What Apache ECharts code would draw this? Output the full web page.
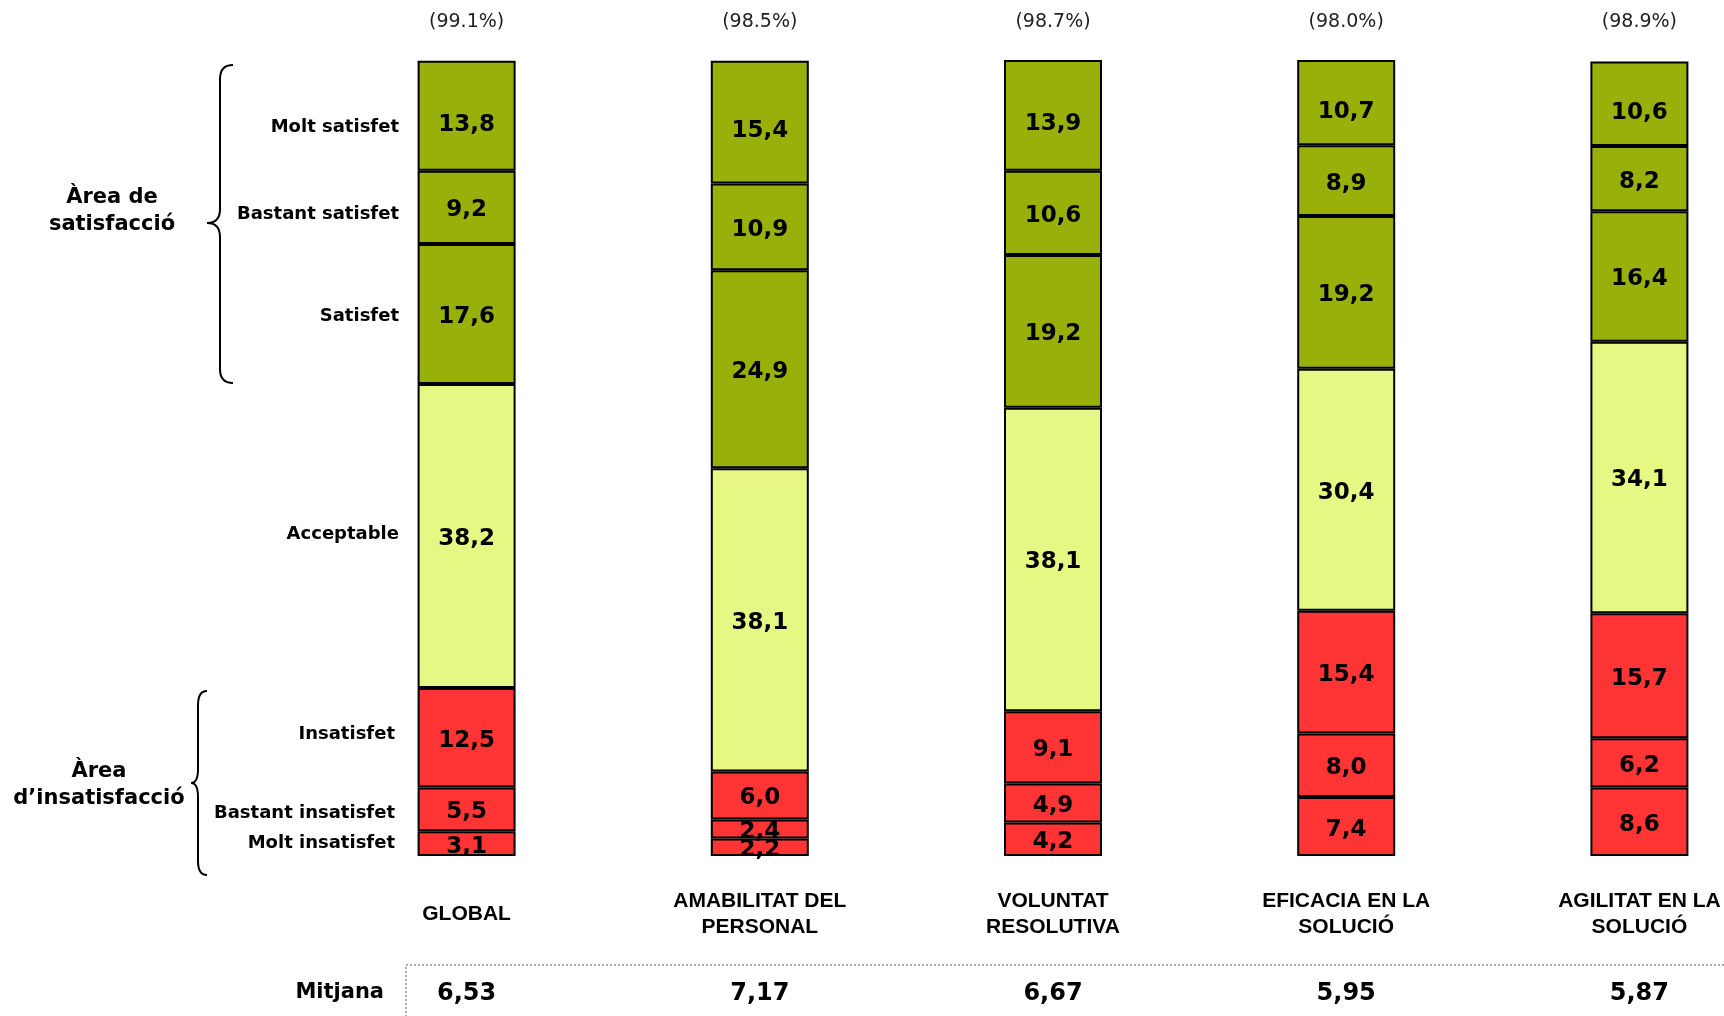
<!DOCTYPE html>
<html>
<head>
<meta charset="utf-8">
<style>
  html, body { margin: 0; padding: 0; background: #fff; overflow: hidden; }
  #chart { width: 1786px; height: 1016px; }
</style>
<script src="https://cdn.jsdelivr.net/npm/echarts@6/dist/echarts.min.js"></script>
</head>
<body>
<div id="chart"></div>
<script>
// categories, bottom to top of every bar
var categories = ['GLOBAL', 'AMABILITAT DEL\nPERSONAL', 'VOLUNTAT\nRESOLUTIVA', 'EFICACIA EN LA\nSOLUCIÓ', 'AGILITAT EN LA\nSOLUCIÓ'];
var responseRate = ['(99.1%)', '(98.5%)', '(98.7%)', '(98.0%)', '(98.9%)'];
var mitjana = ['6,53', '7,17', '6,67', '5,95', '5,87'];

var moltInsatisfet    = [3.1, 2.2, 4.2, 7.4, 8.6];
var bastantInsatisfet = [5.5, 2.4, 4.9, 8.0, 6.2];
var insatisfet        = [12.5, 6.0, 9.1, 15.4, 15.7];
var acceptable        = [38.2, 38.1, 38.1, 30.4, 34.1];
var satisfet          = [17.6, 24.9, 19.2, 19.2, 16.4];
var bastantSatisfet   = [9.2, 10.9, 10.6, 8.9, 8.2];
var moltSatisfet      = [13.8, 15.4, 13.9, 10.7, 10.6];

var GREEN = '#99b00b', YELLOW = '#e6f784', RED = '#ff3535';

function seg(name, data, color, dy) {
    return {
        name: name,
        type: 'bar',
        stack: 'total',
        barWidth: 98,
        data: data,
        itemStyle: { color: color, borderColor: '#000', borderWidth: 2 },
        label: {
            show: true,
            position: 'inside',
            offset: [0, dy || 3],
            color: '#000',
            fontFamily: 'DejaVu Sans',
            fontWeight: 'bold',
            fontSize: 23,
            formatter: function (p) { return p.value.toFixed(1).replace('.', ','); }
        },
        emphasis: { disabled: true },
        animation: false
    };
}

var chart = echarts.init(document.getElementById('chart'));

var leftFont = 'bold 18px "DejaVu Sans"';
var areaFont = 'bold 21px "DejaVu Sans"';

function leftText(txt, x, y, font, align) {
    return {
        type: 'text', x: x, y: y,
        style: { text: txt, font: font, fill: '#000', align: align || 'right', verticalAlign: 'middle', lineHeight: 27 }
    };
}

// brace "{" : right end x, spine x, tip x, top y, mid y, bottom y
function brace(xr, xs, xt, y0, ym, y1) {
    var r = 14;
    var st = { stroke: '#000', lineWidth: 2, fill: null };
    function curve(x1, y1_, cx, cy, x2, y2) {
        return { type: 'bezierCurve', shape: { x1: x1, y1: y1_, cpx1: cx, cpy1: cy, x2: x2, y2: y2 }, style: st };
    }
    function line(x1, y1_, x2, y2) {
        return { type: 'line', shape: { x1: x1, y1: y1_, x2: x2, y2: y2 }, style: st };
    }
    return {
        type: 'group',
        children: [
            curve(xr, y0, xs, y0, xs, y0 + r),
            line(xs, y0 + r, xs, ym - r),
            curve(xs, ym - r, xs, ym, xt, ym),
            curve(xt, ym, xs, ym, xs, ym + r),
            line(xs, ym + r, xs, y1 - r),
            curve(xs, y1 - r, xs, y1, xr, y1)
        ]
    };
}

var option = {
    backgroundColor: '#fff',
    grid: { left: 320, right: 0, top: 60, bottom: 160 },
    xAxis: [
        {
            type: 'category',
            data: categories,
            position: 'bottom',
            axisLine: { show: false },
            axisTick: { show: false },
            axisLabel: {
                interval: 0,
                margin: 58,
                verticalAlign: 'middle',
                color: '#000',
                fontFamily: 'Liberation Sans',
                fontWeight: 'bold',
                fontSize: 21,
                lineHeight: 26
            }
        },
        {
            type: 'category',
            data: mitjana,
            position: 'bottom',
            axisLine: { show: false },
            axisTick: { show: false },
            axisLabel: {
                interval: 0,
                margin: 138,
                verticalAlign: 'middle',
                color: '#000',
                fontFamily: 'DejaVu Sans',
                fontWeight: 'bold',
                fontSize: 24
            }
        },
        {
            type: 'category',
            data: responseRate,
            position: 'top',
            axisLine: { show: false },
            axisTick: { show: false },
            axisLabel: {
                interval: 0,
                margin: 38,
                verticalAlign: 'middle',
                color: '#222',
                fontFamily: 'DejaVu Sans',
                fontSize: 19
            }
        }
    ],
    yAxis: { type: 'value', min: 0, max: 100, show: false },
    series: [
        seg('Molt insatisfet', moltInsatisfet, RED),
        seg('Bastant insatisfet', bastantInsatisfet, RED),
        seg('Insatisfet', insatisfet, RED),
        seg('Acceptable', acceptable, YELLOW),
        seg('Satisfet', satisfet, GREEN),
        seg('Bastant satisfet', bastantSatisfet, GREEN),
        seg('Molt satisfet', moltSatisfet, GREEN, 9)
    ],
    graphic: [
        leftText('Molt satisfet', 399, 127, leftFont),
        leftText('Bastant satisfet', 399, 214, leftFont),
        leftText('Satisfet', 399, 316, leftFont),
        leftText('Acceptable', 399, 534, leftFont),
        leftText('Insatisfet', 395, 734, leftFont),
        leftText('Bastant insatisfet', 395, 813, leftFont),
        leftText('Molt insatisfet', 395, 843, leftFont),
        leftText('Àrea de\nsatisfacció', 112, 211, areaFont, 'center'),
        leftText('Àrea\nd\u2019insatisfacció', 99, 785, areaFont, 'center'),
        brace(233, 220, 207, 65, 223, 383),
        brace(207, 198, 191, 691, 783, 875),
        leftText('Mitjana', 384, 993, 'bold 21px "DejaVu Sans"'),
        {
            type: 'polyline',
            shape: { points: [[1724, 965], [406, 965], [406, 1016]] },
            style: { fill: null, stroke: '#aaa', lineWidth: 2, lineDash: [2, 2] }
        }
    ]
};

chart.setOption(option);
</script>
</body>
</html>
